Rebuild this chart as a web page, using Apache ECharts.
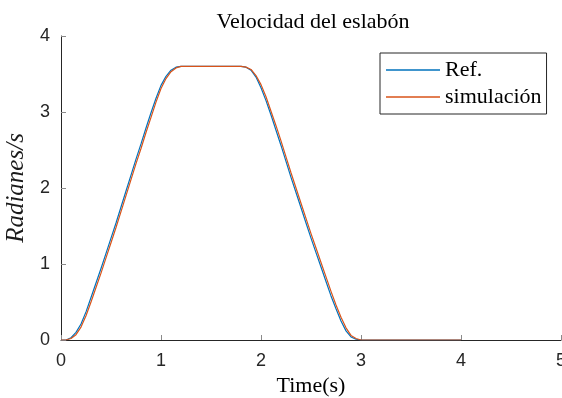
<!DOCTYPE html>
<html>
<head>
<meta charset="utf-8">
<script src="https://cdn.jsdelivr.net/npm/echarts@6/dist/echarts.min.js"></script>
<style>
  html, body { margin: 0; padding: 0; background: #fff; }
  #chart { width: 562px; height: 398px; }
</style>
</head>
<body>
<div id="chart"></div>
<script>
// Sample times (s)
const timeS = [0, 0.05, 0.1, 0.15, 0.2, 0.25, 0.3, 0.35, 0.4, 0.45, 0.5, 0.55, 0.6, 0.65, 0.7, 0.75,
  0.8, 0.85, 0.9, 0.95, 1.0, 1.05, 1.1, 1.15, 1.2, 1.8, 1.85, 1.9, 1.95, 2.0, 2.05, 2.1, 2.15,
  2.2, 2.25, 2.3, 2.35, 2.4, 2.45, 2.5, 2.55, 2.6, 2.65, 2.7, 2.75, 2.8, 2.85, 2.9, 2.95, 3.0, 4.0];

// Reference velocity (rad/s)
const refVel = [0, 0, 0.03, 0.10, 0.21, 0.37, 0.56, 0.75, 0.94, 1.14, 1.34, 1.54, 1.75, 1.96, 2.17, 2.38,
  2.58, 2.79, 2.99, 3.18, 3.35, 3.47, 3.55, 3.59, 3.60, 3.60, 3.59, 3.55, 3.46, 3.32, 3.15, 2.96, 2.76,
  2.56, 2.35, 2.14, 1.94, 1.74, 1.54, 1.34, 1.15, 0.96, 0.77, 0.58, 0.41, 0.25, 0.12, 0.04, 0.01, 0, 0];

// Simulated velocity (rad/s)
const simVel = [0, 0, 0.02, 0.07, 0.17, 0.32, 0.50, 0.69, 0.88, 1.08, 1.28, 1.48, 1.69, 1.90, 2.11, 2.32,
  2.52, 2.73, 2.93, 3.13, 3.31, 3.44, 3.53, 3.58, 3.60, 3.60, 3.59, 3.56, 3.48, 3.36, 3.20, 3.01, 2.82,
  2.62, 2.41, 2.20, 2.00, 1.80, 1.60, 1.40, 1.21, 1.02, 0.83, 0.64, 0.46, 0.30, 0.16, 0.06, 0.02, 0, 0];

const xTicks = [0, 1, 2, 3, 4, 5];
const yTicks = [0, 1, 2, 3, 4];

const pairs = (vals) => timeS.map((t, i) => [t, vals[i]]);

const axisColor = '#262626';
const sans = 'Liberation Sans, Arial, sans-serif';
const serif = 'Liberation Serif, Times New Roman, serif';

const chart = echarts.init(document.getElementById('chart'), null, { renderer: 'canvas' });
chart.setOption({
  animation: false,
  backgroundColor: '#fff',
  title: {
    text: 'Velocidad del eslabón',
    left: 308, top: 6, textAlign: 'center',
    textStyle: { fontFamily: serif, fontSize: 22, fontWeight: 'normal', color: '#000' }
  },
  legend: {
    orient: 'vertical',
    left: 380, top: 53,
    padding: [4, 5, 4, 6],
    icon: 'rect',
    itemWidth: 54, itemHeight: 1.5, itemGap: 1,
    borderColor: axisColor, borderWidth: 1,
    backgroundColor: '#fff',
    textStyle: { fontFamily: serif, fontSize: 22, color: '#000', lineHeight: 26 },
    data: ['Ref.', 'simulación']
  },
  grid: { left: 61, right: 1, top: 36, bottom: 58, containLabel: false, outerBoundsMode: 'none' },
  xAxis: {
    type: 'value', min: xTicks[0], max: xTicks[xTicks.length - 1], interval: 1,
    name: 'Time(s)', nameLocation: 'middle', nameGap: 31,
    nameTextStyle: { fontFamily: serif, fontSize: 22, color: '#000' },
    axisLine: { lineStyle: { color: axisColor, width: 1 } },
    axisTick: { inside: true, length: 5, lineStyle: { color: '#8a8a8a' } },
    axisLabel: { fontFamily: sans, fontSize: 18, color: axisColor, margin: 12, showMaxLabel: true },
    splitLine: { show: false }
  },
  yAxis: {
    type: 'value', min: yTicks[0], max: yTicks[yTicks.length - 1], interval: 1,
    name: 'Radianes/s', nameLocation: 'middle', nameGap: 26, nameRotate: 90,
    nameTextStyle: { fontFamily: serif, fontSize: 25, fontStyle: 'italic', color: '#1a1a1a' },
    axisLine: { show: true, lineStyle: { color: axisColor, width: 1 } },
    axisTick: { show: true, inside: true, length: 5, lineStyle: { color: '#8a8a8a' } },
    axisLabel: { fontFamily: sans, fontSize: 18, color: axisColor, margin: 11 },
    splitLine: { show: false }
  },
  series: [
    {
      name: 'Ref.', type: 'line', data: pairs(refVel), symbol: 'none', smooth: false,
      lineStyle: { color: '#0072BD', width: 1.2 }, itemStyle: { color: '#0072BD' }
    },
    {
      name: 'simulación', type: 'line', data: pairs(simVel), symbol: 'none', smooth: false,
      lineStyle: { color: '#D95319', width: 1.2 }, itemStyle: { color: '#D95319' }
    }
  ]
});
</script>
</body>
</html>
